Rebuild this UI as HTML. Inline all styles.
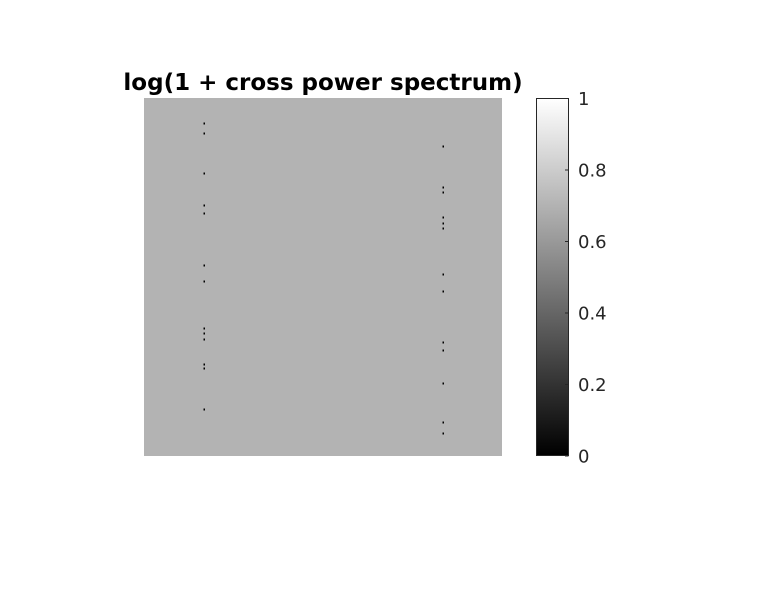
<!DOCTYPE html>
<html><head><meta charset="utf-8"><style>
body{margin:0;background:#fff;}
svg{display:block;font-family:"DejaVu Sans","Liberation Sans",sans-serif;}
</style></head><body>
<svg width="759" height="611">
<defs><linearGradient id="g" x1="0" y1="1" x2="0" y2="0"><stop offset="0" stop-color="#000"/><stop offset="1" stop-color="#fff"/></linearGradient></defs>
<text x="323" y="90" text-anchor="middle" font-size="23" font-weight="bold" fill="#000">log(1 + cross power spectrum)</text>
<rect x="144" y="98" width="358" height="358" fill="#b3b3b3"/>
<g id="dots"></g>
<rect x="536.5" y="98.5" width="32" height="357" fill="url(#g)" stroke="#262626" stroke-width="1"/>
<g id="cb"></g>
</svg>
<script>
// peak positions in image pixel coords (0..358)
const peakCols = [60,60,60,60,60,60,60,60,60,60,60,60,60, 299,299,299,299,299,299,299,299,299,299,299,299,299];
const peakRows = [25,35,75,107,115,167,183,230,235,241,266,270,311, 48,89,94,119,125,130,176,193,244,252,285,324,335];
const cbTicks = [0,0.2,0.4,0.6,0.8,1];
const cbLabels = ["0","0.2","0.4","0.6","0.8","1"];
const NS="http://www.w3.org/2000/svg";
const ix=c=>144+c*358/358, iy=r=>98+r*358/358;
const cy=v=>456-v*357.5;
const dg=document.getElementById('dots');
peakCols.forEach((c,i)=>{const r=document.createElementNS(NS,'rect');
r.setAttribute('x',ix(c)-0.5);r.setAttribute('y',iy(peakRows[i])-0.5);r.setAttribute('width',1.5);r.setAttribute('height',2);r.setAttribute('fill','#000');


dg.appendChild(r);});
const cg=document.getElementById('cb');
cbTicks.forEach((v,i)=>{const y=cy(v);
const l=document.createElementNS(NS,'line');l.setAttribute('x1',565);l.setAttribute('x2',568.5);l.setAttribute('y1',y);l.setAttribute('y2',y);l.setAttribute('stroke','#262626');


cg.appendChild(l);
const t=document.createElementNS(NS,'text');t.setAttribute('x',578);t.setAttribute('y',y+6.5);t.setAttribute('font-size','18');t.setAttribute('fill','#262626');t.textContent=cbLabels[i];


cg.appendChild(t);});
</script>
</body></html>
